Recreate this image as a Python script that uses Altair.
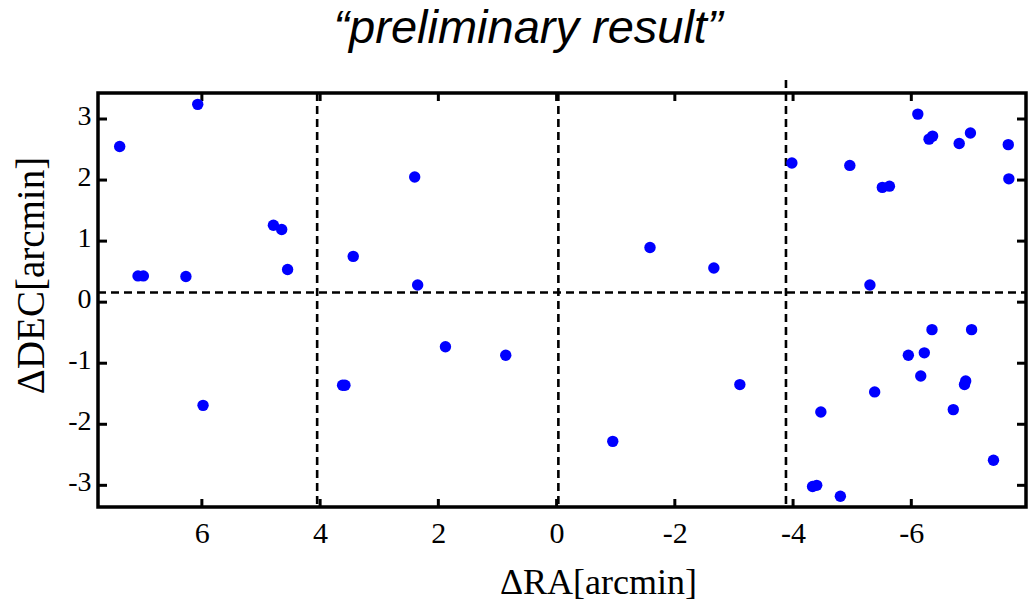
import altair as alt
import pandas as pd

# Data
ra = [7.39, 6.07, 7.08, 6.99, 6.27, 4.79, 4.65, 4.55, 5.98, 3.44, 2.40, 2.35, 3.62, 3.58, 1.88, 0.86,
      -1.58, -2.66, -3.10, -0.95, -3.98, -4.96, -5.51, -5.63, -6.11, -6.30, -6.36, -6.81, -7.00,
      -7.64, -7.65, -5.30, -6.35, -7.02, -5.95, -6.22, -6.16, -6.92, -6.90, -5.38, -4.47, -6.71,
      -7.39, -4.33, -4.40, -4.80]
dec = [2.55, 3.24, 0.43, 0.43, 0.42, 1.26, 1.19, 0.535, -1.69, 0.75, 2.05, 0.28, -1.36, -1.36, -0.73, -0.87,
       0.895, 0.56, -1.35, -2.28, 2.28, 2.24, 1.88, 1.90, 3.08, 2.67, 2.72, 2.60, 2.77,
       2.58, 2.02, 0.28, -0.45, -0.45, -0.87, -0.83, -1.21, -1.29, -1.35, -1.47, -1.80, -1.76,
       -2.59, -3.02, -3.00, -3.18]

x_ticks = [6, 4, 2, 0, -2, -4, -6]
y_ticks = [3, 2, 1, 0, -1, -2, -3]
v_dashed = [4.05, -0.03]
v_dashed_tall = [-3.88]
h_dashed = [0.158]

x_domain = [-7.94, 7.757]
y_domain = [-3.355, 3.426]

W, H = 928, 414

xs = alt.Scale(domain=x_domain, reverse=True, zero=False, nice=False)
ys = alt.Scale(domain=y_domain, zero=False, nice=False)

hyphen = "replace(datum.label, '\u2212', '-')"

xaxis = alt.Axis(values=x_ticks, ticks=False, domain=False, grid=False,
                 labelFont="Liberation Serif", labelFontSize=30, labelPadding=11,
                 labelColor="black", labelExpr=hyphen,
                 title="ΔRA[arcmin]", titleFont="Liberation Serif", titleFontSize=36,
                 titleFontWeight="normal", titleColor="black",
                 titleX=500, titleY=86, titleBaseline="alphabetic", titleAlign="center")
yaxis = alt.Axis(values=y_ticks, ticks=False, domain=False, grid=False,
                 labelFont="Liberation Serif", labelFontSize=28, labelPadding=7,
                 labelColor="black", labelOffset=-3, labelExpr=hyphen,
                 title="ΔDEC[arcmin]", titleFont="Liberation Serif", titleFontSize=39,
                 titleFontWeight="normal", titleColor="black", titleAngle=270,
                 titleX=-55, titleY=182, titleBaseline="alphabetic", titleAlign="center")


def X(f):
    return alt.X(f, scale=xs, axis=xaxis)


def Y(f):
    return alt.Y(f, scale=ys, axis=yaxis)


pts = pd.DataFrame({"ra": ra, "dec": dec})
xt = pd.DataFrame({"v": x_ticks})
yt = pd.DataFrame({"v": y_ticks})

points = alt.Chart(pts).mark_circle(size=130, color="#0000FF", opacity=1).encode(
    x=X("ra:Q"), y=Y("dec:Q"))

dash = dict(color="black", strokeWidth=2.6, strokeDash=[8, 5])

vlines = alt.Chart(pd.DataFrame({"v": v_dashed})).mark_rule(**dash).encode(
    x=X("v:Q"), y=alt.value(0), y2=alt.value(H))
vline_tall = alt.Chart(pd.DataFrame({"v": v_dashed_tall})).mark_rule(clip=False, **dash).encode(
    x=X("v:Q"), y=alt.value(-13), y2=alt.value(H))
hlines = alt.Chart(pd.DataFrame({"v": h_dashed})).mark_rule(**dash).encode(
    y=Y("v:Q"), x=alt.value(0), x2=alt.value(W))

tick = dict(color="black", strokeWidth=3)
top_ticks = alt.Chart(xt).mark_rule(**tick).encode(
    x=X("v:Q"), y=alt.value(0), y2=alt.value(8))
bot_ticks = alt.Chart(xt).mark_rule(**tick).encode(
    x=X("v:Q"), y=alt.value(H - 8), y2=alt.value(H))
left_ticks = alt.Chart(yt).mark_rule(**tick).encode(
    y=Y("v:Q"), x=alt.value(0), x2=alt.value(9))
right_ticks = alt.Chart(yt).mark_rule(**tick).encode(
    y=Y("v:Q"), x=alt.value(W - 9), x2=alt.value(W))

chart = alt.layer(
    vlines, vline_tall, hlines, top_ticks, bot_ticks, left_ticks, right_ticks, points
).properties(
    width=W, height=H,
    title=alt.TitleParams(text="“preliminary result”", font="Liberation Sans", fontStyle="italic",
                          fontSize=47, fontWeight="normal", color="black", anchor="middle",
                          dx=-34, baseline="alphabetic", offset=-11),
    autosize=alt.AutoSizeParams(type="none"),
    padding={"left": 98, "top": 93, "right": 2, "bottom": 95},
).configure(
    background="white"
).configure_view(
    stroke="black", strokeWidth=3.5
)

chart.save("out.html", embed_options={"renderer": "svg", "actions": False})
